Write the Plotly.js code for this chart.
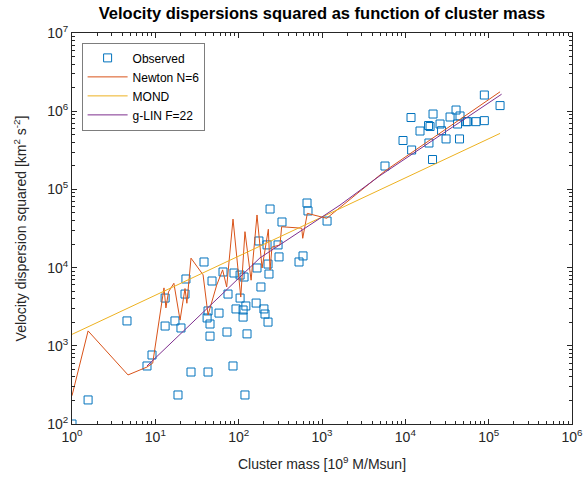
<!DOCTYPE html>
<html>
<head>
<meta charset="utf-8">
<script src="https://cdn.plot.ly/plotly-3.0.1.min.js"></script>
<style>html,body{margin:0;padding:0;background:#fff;}#chart{width:586px;height:482px;}</style>
</head>
<body>
<div id="chart"></div>
<script>
// Observed clusters: mass [1e9 Msun] and velocity dispersion squared [km^2 s^-2]
var obsMass = [1.0, 1.56, 4.57, 7.94, 9.12, 13.1, 13.1, 17.2, 18.7, 20.3, 22.7, 23.3, 26.8,
  38.4, 41.8, 42.9, 42.9, 45.3, 45.3, 47.9, 58.1, 64.9, 72.4, 74.5, 85.5, 87.9, 92.9,
  104, 104, 113, 113, 116, 119, 122, 126, 162, 166, 175, 185, 201, 207, 219, 225, 225,
  231, 238, 297, 305, 331, 530, 592, 661, 679, 1150,
  5700, 9380, 11700, 11900, 15000, 19000, 19200, 19800, 21200, 21500, 26100, 27200,
  30800, 34400, 40600, 42300, 44700, 45300, 53500, 55700, 70500, 88700, 88700, 137000];
var obsSigma2 = [100, 203, 2080, 552, 763, 1790, 4080, 2080, 235, 1690, 4590, 7150, 462,
  11800, 2270, 2790, 462, 1900, 1330, 6740, 2620, 8790, 1500, 4590, 552, 8530, 2960,
  8030, 4080, 2870, 2330, 7580, 235, 3230, 1420, 3520, 9890, 21900, 5650, 2960, 2550, 19500, 2010, 11100,
  8280, 56100, 19500, 13700, 38300, 11800, 14100, 67000, 53000, 39400,
  199000, 422000, 830000, 319000, 558000, 656000, 392000, 637000, 241000, 920000, 686000, 563000,
  442000, 843000, 1035000, 686000, 442000, 869000, 735000, 735000, 735000, 757000, 1610000, 1180000];

// Newton N=6 prediction
var newtonMass = [1.0, 1.56, 4.7, 7.94, 9.3, 12.7, 13.4, 14.4, 16.7, 19.8, 22.7, 23.9, 26.8,
  37.4, 42.9, 54.5, 64.2, 71.8, 85.5, 106, 119, 141, 166, 191, 227, 238, 251, 313, 328,
  571, 587, 667, 1138, 5700, 137000];
var newtonSigma2 = [230, 1550, 424, 535, 600, 5500, 3050, 4900, 6300, 2130, 5400, 3500, 13200,
  8080, 2480, 5970, 9350, 5650, 41700, 4200, 28800, 6900, 47100, 9890, 30900, 9330, 18300, 19500, 33300,
  31900, 23700, 49400, 42700, 172000, 1770000];

// MOND prediction
var mondMass = [1.0, 137000];
var mondSigma2 = [1400, 520000];

// g-LIN F=22 prediction
var glinMass = [7.94, 59.7, 180, 1645, 4970, 143000];
var glinSigma2 = [552, 4250, 13300, 63000, 150000, 1650000];

// Axis ticks
var xTickVals = [1, 10, 100, 1000, 10000, 100000, 1000000];
var xTickText = ['10<sup>0</sup>', '10<sup>1</sup>', '10<sup>2</sup>', '10<sup>3</sup>', '10<sup>4</sup>', '10<sup>5</sup>', '10<sup>6</sup>'];
var yTickVals = [100, 1000, 10000, 100000, 1000000, 10000000];
var yTickText = ['10<sup>2</sup>', '10<sup>3</sup>', '10<sup>4</sup>', '10<sup>5</sup>', '10<sup>6</sup>', '10<sup>7</sup>'];

var axisColor = '#262626';
var font = 'Arial, "Liberation Sans", Helvetica, sans-serif';

var traces = [
  {x: obsMass, y: obsSigma2, type: 'scatter', mode: 'markers', name: 'Observed',
   marker: {symbol: 'square-open', size: 8, color: '#0072BD', line: {width: 1}}},
  {x: newtonMass, y: newtonSigma2, type: 'scatter', mode: 'lines', name: 'Newton N=6',
   line: {color: '#D95319', width: 1}},
  {x: mondMass, y: mondSigma2, type: 'scatter', mode: 'lines', name: 'MOND',
   line: {color: '#EDB120', width: 1}},
  {x: glinMass, y: glinSigma2, type: 'scatter', mode: 'lines', name: 'g-LIN F=22',
   line: {color: '#7E2F8E', width: 1}}
];

var axisCommon = {
  type: 'log', showgrid: false, zeroline: false, showline: true, linecolor: axisColor, linewidth: 1,
  mirror: 'ticks', ticks: 'inside', ticklen: 5, tickcolor: axisColor, tickmode: 'array',
  tickfont: {family: font, size: 14, color: axisColor},
  minor: {dtick: 'D1', ticks: 'inside', ticklen: 3, tickcolor: axisColor, showgrid: false}
};

var layout = {
  width: 586, height: 482,
  margin: {l: 72, r: 14, t: 33, b: 58},
  paper_bgcolor: '#fff', plot_bgcolor: '#fff',
  font: {family: font, color: axisColor},
  title: {text: '<b>Velocity dispersions squared as function of cluster mass</b>',
    font: {family: font, size: 16.5, color: '#000'}, x: 0.5, xref: 'paper', xanchor: 'center',
    y: 0.973, yref: 'container', yanchor: 'middle'},
  xaxis: Object.assign({}, axisCommon, {
    range: [0, 6], tickvals: xTickVals, ticktext: xTickText,
    title: {text: 'Cluster mass [10<sup>9</sup> M/Msun]', font: {family: font, size: 14, color: axisColor}, standoff: 15}
  }),
  yaxis: Object.assign({}, axisCommon, {
    range: [2, 7], tickvals: yTickVals, ticktext: yTickText,
    title: {text: 'Velocity dispersion squared [km<sup>2</sup> s<sup>-2</sup>]', font: {family: font, size: 14, color: axisColor}, standoff: 17}
  }),
  showlegend: true,
  legend: {x: 0.02, y: 0.975, xanchor: 'left', yanchor: 'top', bgcolor: '#fff',
    bordercolor: axisColor, borderwidth: 0.6, font: {family: font, size: 12, color: '#000'},
    tracegroupgap: 0, itemwidth: 40}
};

Plotly.newPlot('chart', traces, layout, {displayModeBar: false, staticPlot: true});
</script>
</body>
</html>
